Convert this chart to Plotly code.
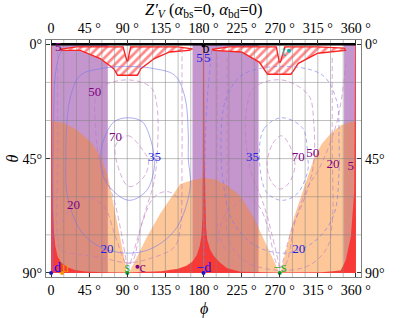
import plotly.graph_objects as go

# ---- data (phi, theta in degrees) ----
phi_ticks = [0, 45, 90, 135, 180, 225, 270, 315, 360]
phi_labels_b = ["0", "45 °", "90 °", "135 °", "180 °", "225 °", "270 °", "315 °", "360 °"]
theta_ticks = [0, 45, 90]
theta_labels = ["0°", "45°", "90°"]
grid_phi = [15, 30, 45, 60, 75, 90, 105, 120, 135, 150, 165, 180, 195, 210, 225, 240, 255, 270, 285, 300, 315, 330, 345]
grid_theta = [15, 30, 45, 60, 75]

purple_bands = [(0, 67), (167, 245), (346, 360)]

orange1_phi = [0, 0, 15.7, 31.4, 47, 59, 66.8, 88.5, 88.5, 0]
orange1_th = [90, 30.2, 31, 33.9, 38.5, 44.4, 51.6, 87.6, 90, 90]
orange2_phi = [92, 113.3, 129, 144.7, 152.6, 166, 180, 194, 208, 224.3, 240, 246, 269.5, 92]
orange2_th = [90, 75.8, 66.6, 58.8, 55, 53.5, 52.5, 53.2, 55.5, 60, 68.6, 73, 89.8, 90]
orange3_phi = [271, 287, 303, 311, 320, 330.5, 342, 354, 360, 360, 271]
orange3_th = [90, 68, 52.2, 44.4, 39, 35, 32, 30.5, 30.5, 90, 90]

red1_phi = [0, 0, 180, 180, 179.4, 179.2, 178.8, 177.6, 175.5, 172, 167, 160, 150, 130, 90, 60, 40, 28, 19.6, 12, 7.8, 5, 3.4, 2.2, 1.6, 1.2, 1.2, 0]
red1_th = [0, 90, 90, 0, 1, 45, 68, 75.5, 79.5, 83, 85.5, 87.2, 88.4, 89.3, 89.8, 89.7, 89.4, 88.8, 87.8, 86, 83.6, 79.5, 74, 65, 55, 30, 1, 0]
red2_phi = [180, 180, 360, 360, 359, 358.5, 358, 354, 348, 342, 320, 270, 223.4, 208, 199.7, 192, 188, 184.5, 183, 181.2, 180.6, 180]
red2_th = [0, 90, 90, 0, 1, 30, 58, 75.8, 85, 89, 89.7, 89.8, 89.5, 88.2, 86, 83.2, 81, 77, 72, 45, 1, 0]

hatch1_phi = [10, 13, 34.6, 58, 74, 78.6, 102, 106, 122, 140, 163, 167, 150, 110, 94, 90.5, 89.5, 85, 60, 30, 10]
hatch1_th = [2, 2.4, 2.4, 5.6, 9.6, 12.2, 12.2, 9.6, 5.6, 3, 2.4, 1.8, 1, 1, 1, 6.5, 6.5, 1, 1, 1, 2]
hatch2_phi = [190, 192, 225, 245.8, 255.7, 283.3, 292, 315, 348, 346, 315, 276, 270.8, 269.5, 266, 240, 210, 190]
hatch2_th = [2, 2.4, 3, 7, 11.8, 11.8, 7.5, 3.5, 2.4, 1.5, 1, 1, 7, 7, 1, 1, 1, 2]

blue5a_phi = [2, 3, 5, 10, 13]
blue5a_th = [89, 30, 12, 4, 2.4]
blue20a_phi = [18.8, 17.6, 18, 22.8, 34.6, 58, 91, 122, 146, 158, 162, 162, 164.4, 148.7, 121, 91.6, 58, 34.6, 18.8]
blue20a_th = [58.8, 45, 35, 20.7, 12.2, 9.6, 8.7, 9.6, 12.2, 20.7, 35, 45, 56, 72, 80, 82.2, 79.8, 73.2, 58.8]
blue35a_phi = [58, 62, 74, 91, 108, 118, 122, 122, 113, 91.6, 66, 58]
blue35a_th = [45, 37.8, 30.6, 28.9, 30.6, 38, 45, 48.3, 57.5, 61.4, 54.8, 45]
pink5a_phi = [7.7, 7.7, 7.7, 12, 30, 60, 90, 120, 145, 152, 154.6, 154.6, 154.6]
pink5a_th = [3, 45, 76, 81, 82.5, 84, 86, 84, 80, 74, 45, 20, 2]
pink50a_phi = [90, 75, 64, 56, 52, 52, 58, 91, 118, 125, 125, 121, 112, 92]
pink50a_th = [88, 62, 52, 44, 30, 22, 17, 14, 17, 24, 45, 55, 65, 88]
pink70a_phi = [76, 91, 109, 115, 110, 95, 88, 76]
pink70a_th = [40, 36, 42, 46, 52, 56, 55, 40]
pink20a_phi = [13, 23.6, 43, 63, 74.7, 84.5, 88, 95, 108, 122, 138, 155]
pink20a_th = [70, 64, 60.2, 64, 74.5, 83.6, 86, 86, 70, 60, 58, 62]

blue5b_phi = [181, 183, 188, 190]
blue5b_th = [89, 30, 8, 2.4]
blue20b_phi = [200.6, 206, 226, 272, 320, 337, 340, 340, 335, 322, 300, 272, 240, 215, 204, 200.6]
blue20b_th = [40, 22, 12, 8.7, 12, 22, 38, 50, 66, 74, 80, 82.2, 79, 70, 56, 40]
blue35b_phi = [246, 252, 272, 297, 303, 303, 290, 272, 254, 246]
blue35b_th = [42, 33, 28.9, 33, 44, 50, 59, 61.4, 58, 42]
pink5b_phi = [208, 208, 208, 214, 232, 270, 305, 326, 332, 332, 332]
pink5b_th = [5, 45, 74, 80, 86, 89, 87, 80, 70, 40, 5]
pink5c_phi = [196, 196, 196, 199, 208]
pink5c_th = [4, 40, 68, 76, 82]
pink50b_phi = [270, 252, 236, 230, 231, 240, 272, 304, 310, 310, 300, 285, 272]
pink50b_th = [88, 64, 50, 38, 25, 17, 14, 20, 30, 47, 60, 72, 88]
pink70b_phi = [255, 262, 272, 282, 288, 280, 270, 260, 255]
pink70b_th = [47, 39, 36, 40, 48, 55, 57, 54, 47]
pink20b_phi = [196, 204, 218, 232, 246, 256, 268, 276, 288, 302, 318, 338, 348]
pink20b_th = [78, 68, 63, 60, 64, 72, 87, 87, 70, 57, 48, 30, 8]

top_line_phi = [0, 360]
top_line_th = [0, 0]

label_text = ["5", "50", "70", "20", "35", "20", "5", "5", "35", "70", "50", "20", "20", "5"]
label_phi = [8.5, 51.7, 76, 26.5, 122, 66, 175.2, 184.5, 238, 292, 309, 333, 292.5, 354]
label_th = [1.2, 19, 36.6, 63.6, 44.5, 80.7, 5.5, 5.5, 44.5, 44.5, 43, 47.5, 80.7, 48]
label_color = ["#800080", "#800080", "#800080", "#800080", "#2020e0", "#2020e0", "#2020e0", "#2020e0",
               "#2020e0", "#800080", "#800080", "#800080", "#2020e0", "#800080"]

pt_phi = [0, 13, 90, 102, 180, 270, 281, 180]
pt_th = [90, 90, 90, 87.6, 90, 90, 2.5, 0.5]
pt_color = ["#1010f0", "#ff9000", "#00a030", "#800080", "#1010f0", "#00a030", "#10b0b0", "#000000"]
pt_name_phi = [7.5, 17, 90, 108, 180.5, 270.5, 275, 183]
pt_name_th = [88.3, 88.3, 88.3, 88.3, 88.3, 88.3, 3.2, 2.2]
pt_name = ["d", "u", "s", "c", "−d", "−s", "t", "b"]
pt_name_color = ["#1010f0", "#ff9000", "#20b020", "#800080", "#1010f0", "#20b020", "#10b0b0", "#000000"]

FONT = "Liberation Serif"
fig = go.Figure()

for a, b in purple_bands:
    fig.add_trace(go.Scatter(x=[a, b, b, a, a], y=[0, 0, 90, 90, 0], mode="none", fill="toself",
                             fillcolor="rgb(196,150,205)"))
for px, py in [(orange1_phi, orange1_th), (orange2_phi, orange2_th), (orange3_phi, orange3_th)]:
    fig.add_trace(go.Scatter(x=px, y=py, mode="none", fill="toself", fillcolor="rgba(250,130,30,0.45)"))
for px, py in [(red1_phi, red1_th), (red2_phi, red2_th)]:
    fig.add_trace(go.Scatter(x=px, y=py, mode="none", fill="toself", fillcolor="rgba(248,50,50,0.92)"))
for px, py in [(hatch1_phi, hatch1_th), (hatch2_phi, hatch2_th)]:
    fig.add_trace(go.Scatter(x=px, y=py, mode="lines", line=dict(color="#ff2020", width=1.4), fill="toself",
                             fillcolor="white",
                             fillpattern=dict(shape="/", fgcolor="#ff1010", bgcolor="white",
                                              size=6, solidity=0.45)))

for g in grid_phi:
    fig.add_trace(go.Scatter(x=[g, g], y=[-1.7, 91.6], mode="lines", line=dict(color="rgba(130,130,130,0.5)", width=1)))
for g in grid_theta:
    fig.add_trace(go.Scatter(x=[-6, 366], y=[g, g], mode="lines", line=dict(color="rgba(130,130,130,0.5)", width=1)))

BLUE = "rgba(120,120,235,0.6)"
PINK = "rgba(190,120,190,0.6)"
for px, py in [(blue5a_phi, blue5a_th), (blue20a_phi, blue20a_th), (blue35a_phi, blue35a_th)]:
    fig.add_trace(go.Scatter(x=px, y=py, mode="lines", line=dict(color=BLUE, width=1, shape="spline")))
for px, py in [(blue5b_phi, blue5b_th), (blue20b_phi, blue20b_th), (blue35b_phi, blue35b_th)]:
    fig.add_trace(go.Scatter(x=px, y=py, mode="lines", line=dict(color=BLUE, width=1, dash="4px,3px", shape="spline")))
for px, py in [(pink5a_phi, pink5a_th), (pink50a_phi, pink50a_th), (pink70a_phi, pink70a_th), (pink20a_phi, pink20a_th),
               (pink5b_phi, pink5b_th), (pink5c_phi, pink5c_th), (pink50b_phi, pink50b_th), (pink70b_phi, pink70b_th),
               (pink20b_phi, pink20b_th)]:
    fig.add_trace(go.Scatter(x=px, y=py, mode="lines", line=dict(color=PINK, width=1, dash="5px,3px", shape="spline")))

fig.add_trace(go.Scatter(x=top_line_phi, y=top_line_th, mode="lines", line=dict(color="black", width=2.5)))
fig.add_trace(go.Scatter(x=label_phi, y=label_th, mode="text", text=label_text,
                         textfont=dict(family=FONT, size=13, color=label_color), textposition="middle center"))
fig.add_trace(go.Scatter(x=pt_phi, y=pt_th, mode="markers", marker=dict(size=4, color=pt_color), cliponaxis=False))
fig.add_trace(go.Scatter(x=pt_name_phi, y=pt_name_th, mode="text", text=pt_name,
                         textfont=dict(family=FONT, size=14, color=pt_name_color), textposition="middle center",
                         cliponaxis=False))
# companion axes for top and right labels
fig.add_trace(go.Scatter(x=[0], y=[0], xaxis="x2", yaxis="y2", mode="markers", marker=dict(opacity=0)))

ax = dict(showgrid=False, zeroline=False, showline=True, linecolor="#808080", linewidth=1.2,
          ticks="inside", ticklen=4, tickcolor="#333", tickfont=dict(family=FONT, size=14, color="black"))
fig.update_layout(
    width=407, height=318, autosize=False, showlegend=False,
    margin=dict(l=46, r=46, t=40, b=41), paper_bgcolor="white", plot_bgcolor="white",
    font=dict(family=FONT, color="black"),
    xaxis=dict(range=[-6, 366], tickvals=phi_ticks, ticktext=phi_labels_b, **ax),
    yaxis=dict(range=[91.6, -1.7], tickvals=theta_ticks, ticktext=theta_labels, **ax),
    xaxis2=dict(range=[-6, 366], tickvals=phi_ticks, ticktext=phi_labels_b, overlaying="x", side="top", **ax),
    yaxis2=dict(range=[91.6, -1.7], tickvals=theta_ticks, ticktext=theta_labels, overlaying="y", side="right", **ax),
    annotations=[
        dict(text="<i>Z′</i><sub><i>V</i></sub> (<i>α</i><sub>bs</sub>=0, <i>α</i><sub>bd</sub>=0)",
             xref="paper", yref="paper", x=0.5, y=1.125, xanchor="center", yanchor="middle", showarrow=False,
             font=dict(family=FONT, size=16.5)),
        dict(text="<i>ϕ</i>", xref="paper", yref="paper", x=0.5, y=-0.135, xanchor="center", yanchor="middle",
             showarrow=False, font=dict(family=FONT, size=16)),
        dict(text="<i>θ</i>", xref="paper", x=-0.105, yref="paper", y=0.5, xanchor="center", yanchor="middle",
             showarrow=False, textangle=-90, font=dict(family=FONT, size=16)),
    ],
)
fig.write_html("out.html", post_script="document.body.style.margin='0';", config=dict(displayModeBar=False))
